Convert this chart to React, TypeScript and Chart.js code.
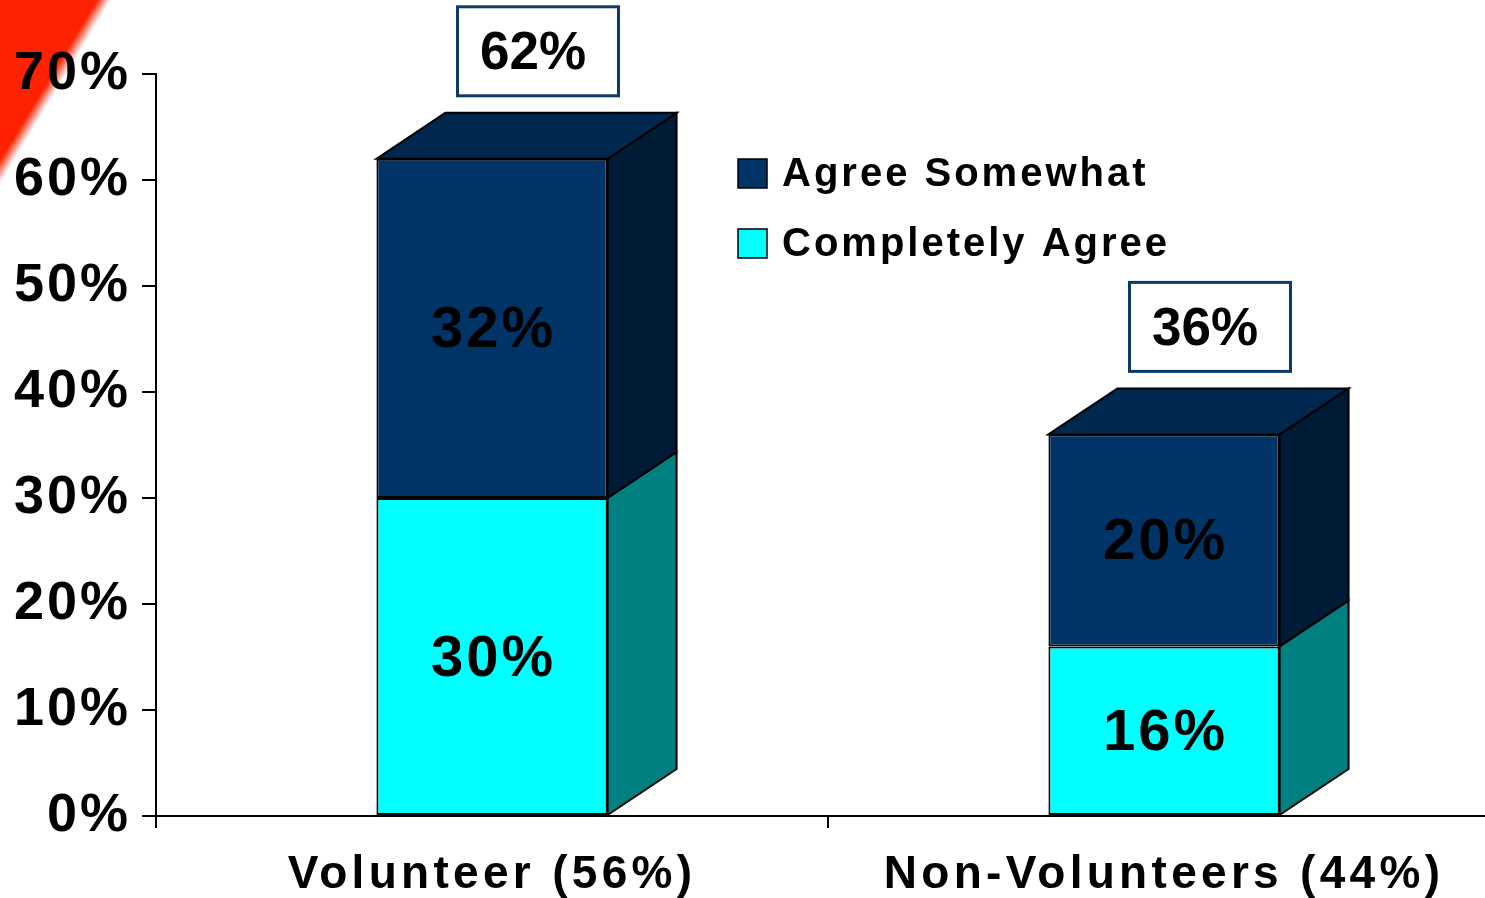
import React, { useEffect, useRef } from "react";
import { Chart, registerables } from "chart.js";

Chart.register(...registerables);

const categories = ["Volunteer (56%)", "Non-Volunteers (44%)"];
const completelyAgree = [30, 16];
const agreeSomewhat = [32, 20];
const yTicks = [0, 10, 20, 30, 40, 50, 60, 70];
const seriesNames = ["Completely Agree", "Agree Somewhat"];

const FONT = '"Liberation Sans", Arial, Helvetica, sans-serif';
const FRONT = ["#00ffff", "#003366"];
const SIDE = ["#008080", "#001b35"];
const TOP = ["#66ffff", "#00284f"];
const DX = 69;
const DY = -46;

const cornerPlugin = {
  id: "corner",
  beforeDraw(chart: any) {
    const ctx = chart.ctx;
    ctx.save();
    const nx = 0.856, ny = 0.517;
    const px = 52, py = 86;
    const g = ctx.createLinearGradient(px - 6 * nx, py - 6 * ny, px + 6 * nx, py + 6 * ny);
    g.addColorStop(0, "rgba(255,34,0,1)");
    g.addColorStop(1, "rgba(255,34,0,0)");
    ctx.fillStyle = g;
    ctx.beginPath();
    ctx.moveTo(0, 0);
    ctx.lineTo(125, 0);
    ctx.lineTo(0, 206);
    ctx.closePath();
    ctx.fill();
    ctx.restore();
    ctx.letterSpacing = "3px";
  },
};

const threeDPlugin = {
  id: "threeD",
  afterDatasetsDraw(chart: any) {
    const ctx = chart.ctx;
    const yScale = chart.scales.y;
    ctx.save();
    ctx.letterSpacing = "0px";
    const n = chart.data.datasets.length;
    chart.data.datasets.forEach((ds: any, di: number) => {
      const meta = chart.getDatasetMeta(di);
      meta.data.forEach((bar: any) => {
        const { x, y, base, width } = bar.getProps(["x", "y", "base", "width"], true);
        const l = x - width / 2;
        const r = x + width / 2;
        ctx.lineWidth = 2;
        ctx.strokeStyle = "#000";
        ctx.lineJoin = "miter";
        ctx.beginPath();
        ctx.moveTo(r, y);
        ctx.lineTo(r + DX, y + DY);
        ctx.lineTo(r + DX, base + DY);
        ctx.lineTo(r, base);
        ctx.closePath();
        ctx.fillStyle = SIDE[di];
        ctx.fill();
        ctx.stroke();
        if (di === n - 1) {
          ctx.beginPath();
          ctx.moveTo(l, y);
          ctx.lineTo(l + DX, y + DY);
          ctx.lineTo(r + DX, y + DY);
          ctx.lineTo(r, y);
          ctx.closePath();
          ctx.fillStyle = TOP[di];
          ctx.fill();
          ctx.stroke();
        }
      });
    });
    // segment labels
    ctx.fillStyle = "#000";
    ctx.textAlign = "center";
    ctx.textBaseline = "middle";
    ctx.font = `bold 58px ${FONT}`;
    ctx.letterSpacing = "3px";
    chart.data.datasets.forEach((ds: any, di: number) => {
      const meta = chart.getDatasetMeta(di);
      meta.data.forEach((bar: any, i: number) => {
        const { x, y, base } = bar.getProps(["x", "y", "base"], true);
        ctx.fillText(`${ds.data[i]}%`, x + 1.5, (y + base) / 2 + 3);
      });
    });
    // total boxes
    ctx.letterSpacing = "0px";
    const meta0 = chart.getDatasetMeta(0);
    meta0.data.forEach((bar: any, i: number) => {
      const total = chart.data.datasets.reduce((s: number, d: any) => s + d.data[i], 0);
      const topY = yScale.getPixelForValue(total);
      const cx = bar.x + 46;
      const bottom = topY + DY - 17;
      const w = 161, h = 89;
      ctx.fillStyle = "#fff";
      ctx.fillRect(cx - w / 2, bottom - h, w, h);
      ctx.strokeStyle = "#0d3a6a";
      ctx.lineWidth = 3;
      ctx.strokeRect(cx - w / 2, bottom - h, w, h);
      ctx.fillStyle = "#000";
      ctx.font = `bold 53px ${FONT}`;
      ctx.fillText(`${total}%`, cx - 5, bottom - h / 2 + 3);
    });
    ctx.restore();
    ctx.letterSpacing = "4.3px";
  },
  afterDraw(chart: any) {
    const ctx = chart.ctx;
    ctx.save();
    const ds = chart.data.datasets;
    const order = ds.map((_: any, i: number) => i).reverse();
    order.forEach((di: number, k: number) => {
      const top = 159 + k * 70;
      ctx.fillStyle = ds[di].backgroundColor;
      ctx.fillRect(738, top, 29, 29);
      ctx.strokeStyle = "#000";
      ctx.lineWidth = 1.5;
      ctx.strokeRect(738, top, 29, 29);
      ctx.fillStyle = "#000";
      ctx.font = `bold 40px ${FONT}`;
      ctx.letterSpacing = "3px";
      ctx.textAlign = "left";
      ctx.textBaseline = "middle";
      ctx.fillText(ds[di].label, 782, top + 16);
    });
    ctx.restore();
    ctx.letterSpacing = "0px";
  },
};

export default function App() {
  const ref = useRef<HTMLCanvasElement | null>(null);
  useEffect(() => {
    if (!ref.current) return;
    const chart = new Chart(ref.current, {
      type: "bar",
      data: {
        labels: categories,
        datasets: [
          {
            label: seriesNames[0],
            data: completelyAgree,
            backgroundColor: FRONT[0],
            borderColor: "#000",
            borderWidth: 2,
            borderSkipped: false,
            categoryPercentage: 1,
            barPercentage: 0.344,
          },
          {
            label: seriesNames[1],
            data: agreeSomewhat,
            backgroundColor: FRONT[1],
            borderColor: "#000",
            borderWidth: 2,
            borderSkipped: false,
            categoryPercentage: 1,
            barPercentage: 0.344,
          },
        ],
      },
      options: {
        responsive: false,
        animation: false,
        devicePixelRatio: 1,
        layout: { padding: { top: 74, right: 20, left: 0, bottom: 0 } },
        plugins: { legend: { display: false }, tooltip: { enabled: false } },
        scales: {
          x: {
            stacked: true,
            grid: {
              display: true,
              drawOnChartArea: false,
              drawTicks: true,
              tickLength: 12,
              color: "#000",
              lineWidth: 2,
              offset: true,
            },
            border: { display: true, color: "#000", width: 2 },
            ticks: {
              z: 1,
              padding: 20,
              color: "#000",
              maxRotation: 0,
              autoSkip: false,
              font: { family: FONT, size: 46, weight: "bold" },
            },
            afterFit: (s: any) => {
              s.height = 82;
            },
          },
          y: {
            stacked: true,
            min: 0,
            max: 70,
            grid: {
              drawOnChartArea: false,
              drawTicks: true,
              tickLength: 14,
              color: "#000",
              lineWidth: 2,
            },
            border: { display: true, color: "#000", width: 2 },
            ticks: {
              padding: 11,
              color: "#000",
              font: { family: FONT, size: 54, weight: "bold" },
              callback: (v: any) => `${v}%`,
            },
            afterBuildTicks: (s: any) => {
              s.ticks = yTicks.map((v) => ({ value: v }));
            },
            afterFit: (s: any) => {
              s.width = 156;
            },
          },
        },
      } as any,
      plugins: [cornerPlugin, threeDPlugin],
    });
    return () => chart.destroy();
  }, []);
  return (
    <div
      style={{
        position: "fixed",
        left: 0,
        top: 0,
        width: 1485,
        height: 898,
        overflow: "hidden",
        background: "#fff",
      }}
    >
      <canvas ref={ref} width={1520} height={898} style={{ display: "block" }} />
    </div>
  );
}
